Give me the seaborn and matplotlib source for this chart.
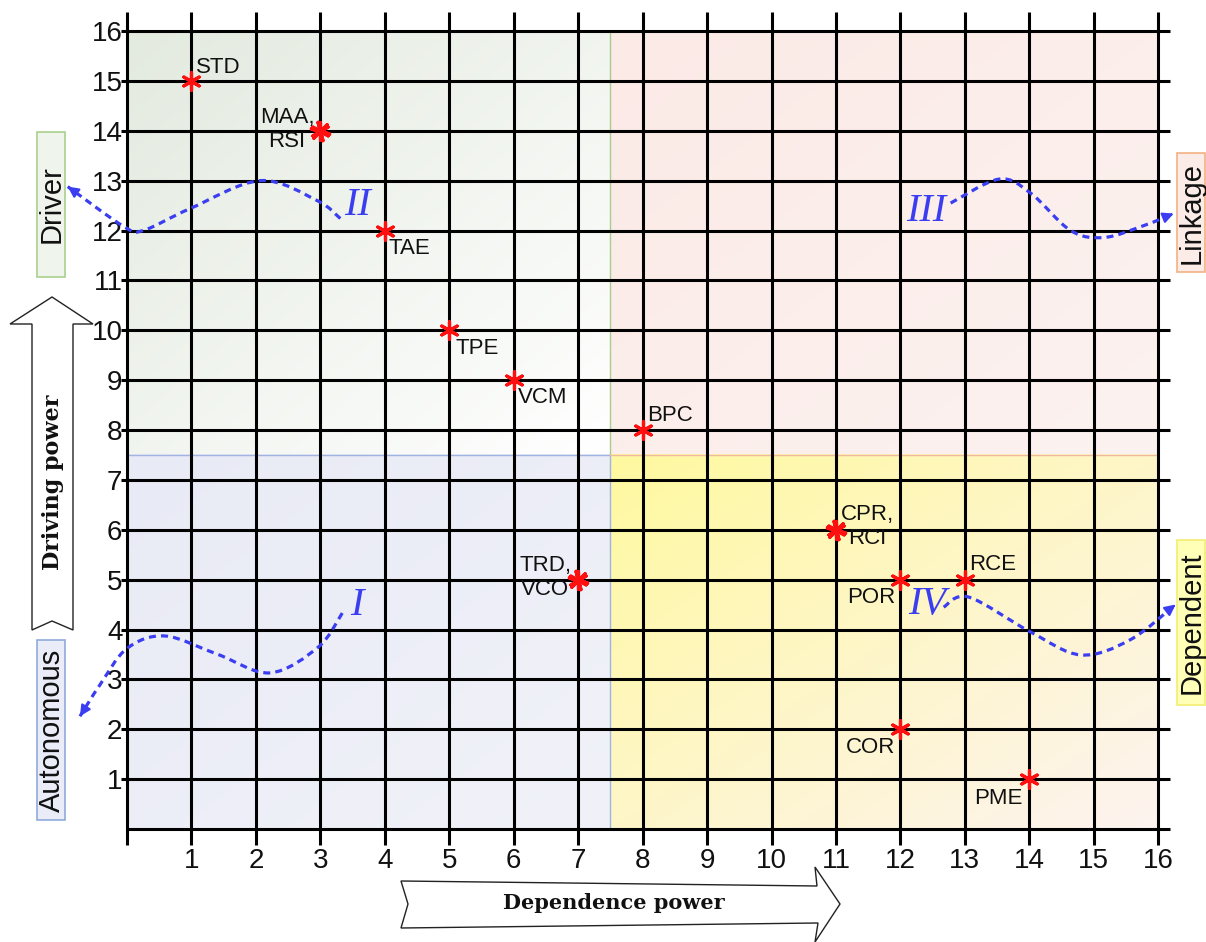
import numpy as np
import pandas as pd
import matplotlib
matplotlib.use("Agg")
import matplotlib.pyplot as plt
import seaborn as sns
from matplotlib.path import Path
from matplotlib.patches import PathPatch, Polygon, Rectangle
from matplotlib.colors import to_rgb
from matplotlib import font_manager

# ---------------- data ----------------
variables = ["STD", "MAA", "RSI", "TAE", "TPE", "VCM", "BPC", "TRD", "VCO",
             "CPR", "RCI", "POR", "RCE", "COR", "PME"]
dependence = [1, 3, 3, 4, 5, 6, 8, 7, 7, 11, 11, 12, 13, 12, 14]
driving = [15, 14, 14, 12, 10, 9, 8, 5, 5, 6, 6, 5, 5, 2, 1]
x_ticks = list(range(1, 17))
y_ticks = list(range(1, 17))
grid_max = 16
split = 7.5
quadrant_names = ["I", "II", "III", "IV"]
cluster_names = ["Autonomous", "Driver", "Linkage", "Dependent"]
x_title = "Dependence power"
y_title = "Driving power"

# decorative wave guides (data units), ordered towards the arrow tip
wave_I = [(3.34, 4.33), (2.97, 3.65), (2.22, 3.13), (1.41, 3.50), (0.59, 3.87),
          (0.0, 3.62), (-0.42, 2.89), (-0.73, 2.26)]
wave_II = [(3.31, 12.24), (2.95, 12.60), (2.07, 13.0), (0.98, 12.44), (0.25, 12.0),
           (-0.05, 12.08), (-0.92, 12.88)]
wave_III = [(12.78, 12.55), (13.53, 13.03), (14.02, 12.75), (14.64, 12.0),
            (15.16, 11.86), (15.78, 12.10), (16.24, 12.34)]
wave_IV = [(12.67, 4.45), (13.06, 4.65), (14.02, 3.95), (14.80, 3.49),
           (15.56, 3.79), (16.27, 4.50)]

# ---------------- fonts ----------------
names = {f.name for f in font_manager.fontManager.ttflist}
if "Liberation Sans Narrow" in names:
    NARROW = ["Liberation Sans Narrow", "DejaVu Sans"]
    tick_fs, lab_fs = 23, 18
else:
    NARROW = ["Liberation Sans", "DejaVu Sans"]
    tick_fs, lab_fs = 20, 16
SANS = ["Liberation Sans", "DejaVu Sans"]

sns.set_theme(style="white")
plt.rcParams["font.family"] = SANS

W, H = 1206, 942
fig = plt.figure(figsize=(W / 100, H / 100), dpi=100)
fig.patch.set_facecolor("white")

X0, UX = 127.0, 64.45
Y0, UY = 829.0, 49.875
xlim = (-0.05, 16.25)
ylim = (-0.35, 16.42)
lp = X0 + xlim[0] * UX
rp = X0 + xlim[1] * UX
tp = Y0 - ylim[1] * UY
bp = Y0 - ylim[0] * UY
ax = fig.add_axes([lp / W, 1 - bp / H, (rp - lp) / W, (bp - tp) / H])
ax.set_facecolor("white")


def fx(px):
    return px / W


def fy(py):
    return 1 - py / H


# ---------------- quadrant backgrounds ----------------
def gradient(x0, x1, y0, y1, c_tl, c_br):
    n = 64
    u = np.linspace(0, 1, n)
    uu, vv = np.meshgrid(u, u)
    t = (uu + vv) / 2
    c1 = np.array(to_rgb(c_tl))
    c2 = np.array(to_rgb(c_br))
    img = c1[None, None, :] * (1 - t[..., None]) + c2[None, None, :] * t[..., None]
    ax.imshow(img, extent=(x0, x1, y0, y1), origin="upper", aspect="auto",
              interpolation="bilinear", zorder=0)


gradient(0, split, split, grid_max, "#e3eadf", "#ffffff")          # II
gradient(split, grid_max, split, grid_max, "#fbeae6", "#fcf2f0")   # III
gradient(0, split, 0, split, "#e8eaf5", "#f1f2f9")                 # I
gradient(split, grid_max, 0, split, "#fff9a0", "#fdf3f0")          # IV

ax.plot([split, split], [split, grid_max], color="#a9cc8f", lw=1.0, zorder=1)
ax.plot([0, split], [split, split], color="#9fb4e0", lw=1.0, zorder=1)
ax.plot([split, split], [0, split], color="#9fb4e0", lw=1.0, zorder=1)
ax.plot([split, grid_max], [split, split], color="#f0b9a0", lw=1.0, zorder=1)

# ---------------- grid ----------------
ax.vlines(range(0, grid_max + 1), -0.32, 16.38, color="black", lw=2.2,
          zorder=2, clip_on=False)
ax.hlines(range(1, grid_max + 1), -0.1, 16.18, color="black", lw=2.2,
          zorder=2, clip_on=False)
ax.hlines([0], 0, 16.18, color="black", lw=2.2, zorder=2, clip_on=False)

# ---------------- points ----------------
df = pd.DataFrame({"var": variables, "dependence": dependence, "driving": driving})
df["dup"] = df.groupby(["dependence", "driving"]).cumcount()
first = df[df["dup"] == 0]
second = df[df["dup"] > 0]
sns.scatterplot(data=first, x="dependence", y="driving", ax=ax, marker=(6, 2, 0),
                color="#ff1010", s=160, linewidth=2.3, zorder=5, legend=False)
sns.scatterplot(data=second, x="dependence", y="driving", ax=ax, marker=(6, 2, 14),
                color="#ff1010", s=180, linewidth=2.6, zorder=5, legend=False)

# labels grouped by position
label_style = {
    "STD": (5, 8, "left", "baseline"),
    "MAA": (-6, 1, "right", "center"),
    "TAE": (4, -7, "left", "top"),
    "TPE": (6, -8, "left", "top"),
    "VCM": (4, -7, "left", "top"),
    "BPC": (5, 9, "left", "baseline"),
    "TRD": (-7, 2, "right", "center"),
    "CPR": (5, 3, "left", "center"),
    "POR": (-5, -7, "right", "top"),
    "RCE": (4, 10, "left", "baseline"),
    "COR": (-5, -8, "right", "top"),
    "PME": (-7, -9, "right", "top"),
}
for (xv, yv), grp in df.groupby(["dependence", "driving"], sort=False):
    names_here = list(grp["var"])
    text = ",\n".join(names_here)
    dx, dy, ha, va = label_style[names_here[0]]
    ax.annotate(text, (xv, yv), xytext=(dx, dy), textcoords="offset pixels",
                ha=ha, va=va, multialignment="center", fontsize=lab_fs,
                family=NARROW, color="#111111", zorder=6, linespacing=1.2)

# ---------------- wave guides ----------------
BLUE = "#3a3ef0"


def smooth_path(pts):
    pts = np.asarray(pts, float)
    n = len(pts)
    verts = [pts[0]]
    codes = [Path.MOVETO]
    for i in range(n - 1):
        p0 = pts[i - 1] if i > 0 else pts[i]
        p1 = pts[i]
        p2 = pts[i + 1]
        p3 = pts[i + 2] if i + 2 < n else pts[i + 1]
        c1 = p1 + (p2 - p0) / 6
        c2 = p2 - (p3 - p1) / 6
        verts += [c1, c2, p2]
        codes += [Path.CURVE4] * 3
    return Path(verts, codes)


for wave in (wave_I, wave_II, wave_III, wave_IV):
    path = smooth_path(wave)
    ax.add_patch(PathPatch(path, fill=False, edgecolor=BLUE, lw=2.3,
                           linestyle=(0, (2.2, 1.6)), zorder=4, clip_on=False,
                           capstyle="butt"))
    tip = np.array(wave[-1], float)
    prev = np.array(wave[-2], float)
    d = tip - prev
    back = tip - d / np.hypot(d[0], d[1]) * 0.05
    ax.annotate("", xy=tuple(tip), xytext=tuple(back),
                arrowprops=dict(arrowstyle="-|>", color=BLUE, lw=1.5,
                                mutation_scale=16, shrinkA=0, shrinkB=0),
                annotation_clip=False, zorder=4)

numeral_pos = {"I": (3.57, 4.49), "II": (3.57, 12.51), "III": (12.40, 12.39),
               "IV": (12.41, 4.51)}
for q in quadrant_names:
    xq, yq = numeral_pos[q]
    ax.text(xq, yq, q, fontsize=29, style="italic",
            family=["Liberation Serif", "DejaVu Serif"], color=BLUE,
            ha="center", va="center", zorder=6)

# ---------------- axes cosmetics ----------------
ax.set_xlim(*xlim)
ax.set_ylim(*ylim)
ax.set_xticks(x_ticks)
ax.set_yticks(y_ticks)
ax.set_xticklabels([str(v) for v in x_ticks], family=NARROW, fontsize=tick_fs)
ax.set_yticklabels([str(v) for v in y_ticks], family=NARROW, fontsize=tick_fs)
ax.tick_params(axis="both", length=0, colors="#111111")
ax.tick_params(axis="x", pad=1)
ax.tick_params(axis="y", pad=1)
ax.set_xlabel("")
ax.set_ylabel("")
for s in ax.spines.values():
    s.set_visible(False)
ax.grid(False)

# ---------------- side cluster boxes ----------------
boxes = {
    "Driver": ((37, 132, 65, 277), "#eff4ec", "#a9d18e"),
    "Linkage": ((1177, 153, 1205, 272), "#fbece8", "#f4b183"),
    "Autonomous": ((37, 640, 65, 820), "#eaecf7", "#8faadc"),
    "Dependent": ((1177, 540, 1205, 705), "#ffffb8", "#f2ee70"),
}
for name in cluster_names:
    (x0, y0, x1, y1), fc, ec = boxes[name]
    fig.patches.append(Rectangle((fx(x0), fy(y1)), fx(x1) - fx(x0), fy(y0) - fy(y1),
                                 transform=fig.transFigure, facecolor=fc,
                                 edgecolor=ec, lw=1.2, zorder=3))
    fig.text(fx((x0 + x1) / 2 + 1), fy((y0 + y1) / 2), name, rotation=90,
             ha="center", va="center", fontsize=21, family=SANS,
             color="#111111", zorder=4)

# ---------------- big hollow arrows ----------------
dep_arrow = [(401, 881), (817, 886), (815, 867), (840, 904), (815, 942),
             (818, 923), (401, 928), (408, 904)]
fig.patches.append(Polygon([(fx(a), fy(b)) for a, b in dep_arrow], closed=True,
                           transform=fig.transFigure, facecolor="white",
                           edgecolor="#222222", lw=1.0, zorder=3))
fig.text(fx(614), fy(903), x_title, ha="center", va="center", fontsize=15,
         fontweight="bold", family=["DejaVu Serif"], color="#111111", zorder=4)

drv_arrow = [(52, 297), (93, 324), (73, 324), (73, 630), (52, 621), (32, 630),
             (32, 324), (10, 324)]
fig.patches.append(Polygon([(fx(a), fy(b)) for a, b in drv_arrow], closed=True,
                           transform=fig.transFigure, facecolor="white",
                           edgecolor="#222222", lw=1.0, zorder=3))
fig.text(fx(53), fy(482), y_title, ha="center", va="center", rotation=90,
         fontsize=16, fontweight="bold", family=["DejaVu Serif"],
         color="#111111", zorder=4)

fig.savefig("out.png", dpi=100)
